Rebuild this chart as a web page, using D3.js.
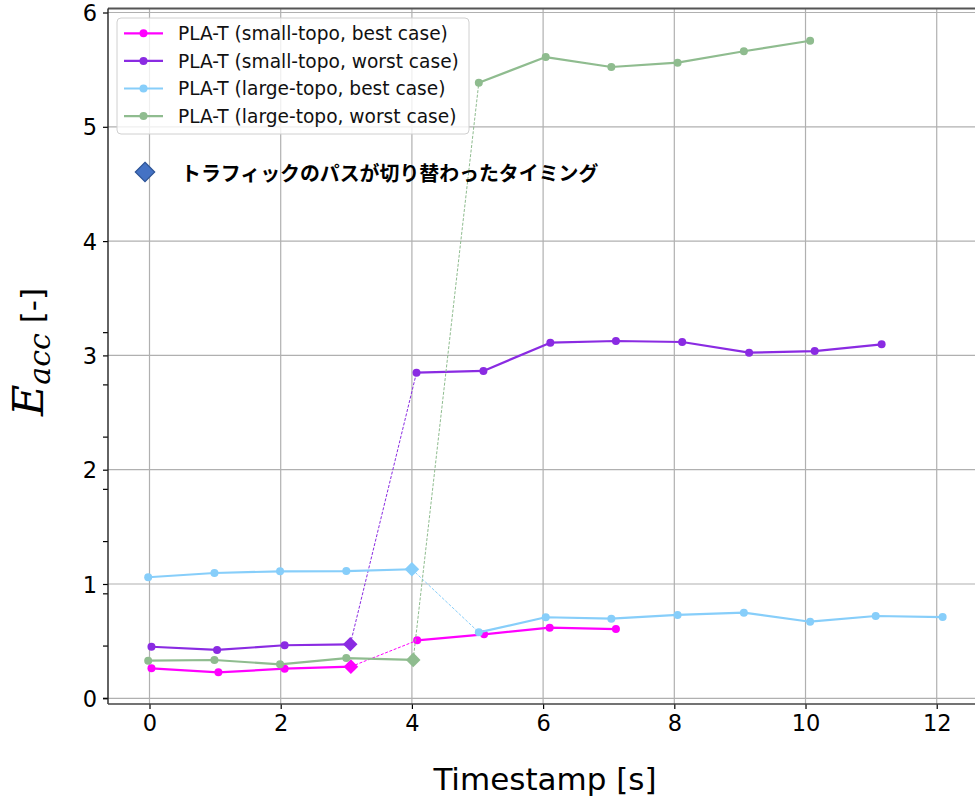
<!DOCTYPE html>
<html>
<head>
<meta charset="utf-8">
<script src="https://cdn.jsdelivr.net/npm/d3@7"></script>
<style>
  body { margin: 0; background: #fff; }
  svg { display: block; font-family: "DejaVu Sans", sans-serif; }
</style>
</head>
<body>
<svg id="chart" width="975" height="798"></svg>
<script>
// timestamps [s] and E_acc values, split at the moment the traffic path switched
const smallBestT  = [0.03, 1.05, 2.06, 3.07, 4.08, 5.10, 6.10, 7.11];
const smallBestE  = [0.262, 0.227, 0.259, 0.277, 0.507, 0.560, 0.618, 0.606];
const smallWorstT = [0.03, 1.03, 2.06, 3.06, 4.07, 5.09, 6.11, 7.11, 8.12, 9.14, 10.14, 11.16];
const smallWorstE = [0.451, 0.423, 0.464, 0.472, 2.849, 2.864, 3.111, 3.126, 3.117, 3.024, 3.038, 3.097];
const largeBestT  = [-0.02, 0.99, 1.99, 3.0, 4.0, 5.02, 6.04, 7.04, 8.05, 9.06, 10.07, 11.07, 12.09];
const largeBestE  = [1.059, 1.096, 1.111, 1.113, 1.129, 0.577, 0.709, 0.697, 0.729, 0.749, 0.670, 0.720, 0.711];
const largeWorstT = [-0.02, 0.99, 1.99, 3.0, 4.02, 5.02, 6.04, 7.04, 8.05, 9.06, 10.07];
const largeWorstE = [0.329, 0.335, 0.297, 0.352, 0.336, 5.386, 5.610, 5.523, 5.561, 5.661, 5.753];
// index of the last point before the switch (drawn as a diamond)
const switchIndex = [3, 3, 4, 4];

const seriesNames = [
  "PLA-T (small-topo, best case)",
  "PLA-T (small-topo, worst case)",
  "PLA-T (large-topo, best case)",
  "PLA-T (large-topo, worst case)"
];
const seriesColors = ["#ff00ff", "#8a2be2", "#87cefa", "#8fbc8f"];

const xTicks = [0, 2, 4, 6, 8, 10, 12];
const yTicks = [0, 1, 2, 3, 4, 5, 6];
const yExtraTicks = [0, 0.457, 0.914, 1.371, 1.828, 2.285, 2.742, 3.199];
const noteText = "トラフィックのパスが切り替わったタイミング";

const series = [
  [smallBestT, smallBestE],
  [smallWorstT, smallWorstE],
  [largeBestT, largeBestE],
  [largeWorstT, largeWorstE]
].map(function(s, i){
  return {
    name: seriesNames[i],
    color: seriesColors[i],
    cut: switchIndex[i],
    points: s[0].map(function(t, j){ return [t, s[1][j]]; })
  };
});

const plot = { left: 108, right: 985, top: 8.5, bottom: 704 };

const svg = d3.select("#chart");

const xScale = d3.scaleLinear()
  .domain([-0.6326, 12.736])
  .range([plot.left, plot.right]);
const yScale = d3.scaleLinear()
  .domain([-0.0499, 6.035])
  .range([plot.bottom, plot.top]);

// grid
const grid = svg.append("g").attr("stroke", "#b0b0b0").attr("stroke-width", 1.2);
grid.selectAll(".gx").data(xTicks).enter().append("line")
  .attr("x1", d => xScale(d)).attr("x2", d => xScale(d))
  .attr("y1", plot.top).attr("y2", plot.bottom);
grid.selectAll(".gy").data(yTicks).enter().append("line")
  .attr("x1", plot.left).attr("x2", plot.right)
  .attr("y1", d => yScale(d)).attr("y2", d => yScale(d));

// axes
const xAxis = d3.axisBottom(xScale).tickValues(xTicks).tickSize(5).tickPadding(6).tickFormat(d3.format("d"));
const yAxis = d3.axisLeft(yScale).tickValues(yTicks).tickSize(5).tickPadding(6).tickFormat(d3.format("d"));

const gx = svg.append("g")
  .attr("transform", "translate(0," + plot.bottom + ")")
  .call(xAxis);
const gy = svg.append("g")
  .attr("transform", "translate(" + plot.left + ",0)")
  .call(yAxis);
[gx, gy].forEach(function(g){
  g.select(".domain").remove();
  g.selectAll(".tick line").attr("stroke", "#000").attr("stroke-width", 1.2);
  g.selectAll(".tick text")
    .attr("fill", "#000")
    .style("font-family", "DejaVu Sans")
    .style("font-size", "22.5px");
});
gy.selectAll(".tick text").attr("dy", "0.36em");
gx.selectAll(".tick text").attr("dy", "0.72em");

// the odd second set of ticks on the left spine
svg.append("g").selectAll("line").data(yExtraTicks).enter().append("line")
  .attr("x1", plot.left - 5).attr("x2", plot.left)
  .attr("y1", d => yScale(d)).attr("y2", d => yScale(d))
  .attr("stroke", "#000").attr("stroke-width", 1.2);

// spines
svg.append("line").attr("x1", plot.left).attr("x2", plot.right)
  .attr("y1", plot.top).attr("y2", plot.top)
  .attr("stroke", "#555").attr("stroke-width", 2);
svg.append("line").attr("x1", plot.left).attr("x2", plot.left)
  .attr("y1", plot.top).attr("y2", plot.bottom)
  .attr("stroke", "#222").attr("stroke-width", 1.4);
svg.append("line").attr("x1", plot.left).attr("x2", plot.right)
  .attr("y1", plot.bottom).attr("y2", plot.bottom)
  .attr("stroke", "#444").attr("stroke-width", 1.6);

// lines and markers
const line = d3.line().x(d => xScale(d[0])).y(d => yScale(d[1]));
const diamond = d3.symbol().type(d3.symbolDiamond2).size(135);
const marks = svg.append("g");

series.forEach(function(s){
  const before = s.points.slice(0, s.cut + 1);
  const jump = s.points.slice(s.cut, s.cut + 2);
  const after = s.points.slice(s.cut + 1);

  marks.append("path").datum(jump)
    .attr("d", line).attr("fill", "none")
    .attr("stroke", s.color).attr("stroke-width", 1)
    .attr("stroke-dasharray", "3,1.6");
  [before, after].forEach(function(seg){
    marks.append("path").datum(seg)
      .attr("d", line).attr("fill", "none")
      .attr("stroke", s.color).attr("stroke-width", 2.2)
      .attr("stroke-linejoin", "round");
  });
  marks.selectAll(null).data(s.points.filter((p, j) => j !== s.cut)).enter()
    .append("circle")
    .attr("cx", d => xScale(d[0])).attr("cy", d => yScale(d[1]))
    .attr("r", 4).attr("fill", s.color);
  marks.append("path")
    .attr("d", diamond)
    .attr("transform", "translate(" + xScale(s.points[s.cut][0]) + "," + yScale(s.points[s.cut][1]) + ")")
    .attr("fill", s.color);
});

// legend
const legend = svg.append("g").attr("transform", "translate(117,18)");
legend.append("rect")
  .attr("width", 352).attr("height", 116).attr("rx", 4)
  .attr("fill", "#fff").attr("fill-opacity", 0.8)
  .attr("stroke", "#d0d0d0").attr("stroke-width", 1);
const rows = legend.selectAll(".row").data(series).enter().append("g")
  .attr("transform", (d, i) => "translate(0," + (15.3 + i * 27.6) + ")");
rows.append("line").attr("x1", 7).attr("x2", 46)
  .attr("stroke", d => d.color).attr("stroke-width", 2.2);
rows.append("circle").attr("cx", 26.5).attr("r", 4).attr("fill", d => d.color);
rows.append("text").attr("x", 61).attr("dy", "0.36em")
  .style("font-size", "18.6px").attr("fill", "#111")
  .text(d => d.name);

// annotation for the switching timing
svg.append("path")
  .attr("d", d3.symbol().type(d3.symbolDiamond2).size(240))
  .attr("transform", "translate(145,172)")
  .attr("fill", "#4472c4").attr("stroke", "#2f5597").attr("stroke-width", 1.2);
svg.append("text")
  .attr("x", 181).attr("y", 174).attr("dy", "0.36em")
  .style("font-family", "'Noto Sans CJK JP'")
  .style("font-weight", "bold").style("font-size", "19.9px")
  .attr("fill", "#000")
  .text(noteText);

// axis titles
svg.append("text")
  .attr("x", 545).attr("y", 790).attr("text-anchor", "middle")
  .style("font-size", "31px").attr("fill", "#000")
  .text("Timestamp [s]");
const ylab = svg.append("text")
  .attr("transform", "translate(43,352) rotate(-90)")
  .attr("text-anchor", "middle").attr("fill", "#000");
ylab.append("tspan")
  .style("font-family", "'DejaVu Serif'").style("font-style", "italic")
  .style("font-size", "43px").text("E");
ylab.append("tspan")
  .style("font-family", "'DejaVu Serif'").style("font-style", "italic")
  .style("font-size", "30px").attr("dy", 7).text("acc");
ylab.append("tspan")
  .style("font-size", "31px").attr("dy", -7).text(" [-]");
</script>
</body>
</html>
